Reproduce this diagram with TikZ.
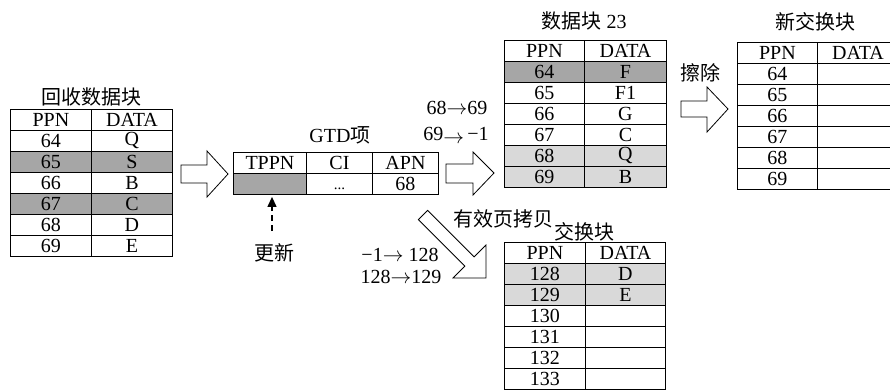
\documentclass[tikz,border=0pt]{standalone}
\usepackage{fontspec}
\setmainfont{Liberation Serif}
\newfontfamily\cjk{Noto Sans CJK SC}
\usetikzlibrary{arrows.meta}
\definecolor{dkg}{HTML}{A6A6A6}
\definecolor{ltg}{HTML}{D9D9D9}
\tikzset{
  cell/.style={draw, line width=0.9pt, inner sep=0pt, minimum height=21pt, anchor=north west},
  blockarrow/.style={draw, line width=0.8pt, fill=white, line join=miter},
  lbl/.style={inner sep=0pt},
}
\newcommand\ra{\ensuremath{\rightarrow}}
\newcommand\mktbl[6]{%
  \foreach \ca/\cb/\cf [count=\ri from 0] in {#6}{%
    \node[cell, fill=\cf, minimum width={#3-#2}] (#1-\ri-a) at (#2,{#5+21*\ri}) {\ca};
    \node[cell, fill=\cf, minimum width={#4-#3}] (#1-\ri-b) at (#3,{#5+21*\ri}) {\cb};
  }%
}
\begin{document}
\begin{tikzpicture}[x=1pt, y=-1pt, font=\fontsize{20}{22}\selectfont]
\useasboundingbox (0,0) rectangle (890,389);

% recycled block
\node[lbl] (t1) at (91,97) {\cjk 回收数据块};
\mktbl{L}{10}{91}{172}{109}{PPN/DATA/white, 64/Q/white, 65/S/dkg, 66/B/white, 67/C/dkg, 68/D/white, 69/E/white}

% GTD entry
\node[lbl] (tg) at (340,135) {GTD\cjk 项};
\node[cell, minimum width=73] (g-0-a) at (233,152) {TPPN};
\node[cell, minimum width=66] (g-0-b) at (306,152) {CI};
\node[cell, minimum width=66] (g-0-c) at (372,152) {APN};
\node[cell, fill=dkg, minimum width=73] (g-1-a) at (233,173) {};
\node[cell, minimum width=66] (g-1-b) at (306,173) {};
\node[lbl, font=\fontsize{15}{16}\selectfont, anchor=base] (dots) at ([yshift=5pt]g-1-b.south) {...};
\node[cell, minimum width=66] (g-1-c) at (372,173) {68};

% data block 23
\node[lbl] (t2) at (584,21) {{\cjk 数据块} 23};
\mktbl{D}{504}{584}{666}{40}{PPN/DATA/white, 64/F/dkg, 65/F1/white, 66/G/white, 67/C/white, 68/Q/ltg, 69/B/ltg}

% new swap block
\node[lbl] (t3) at (815,22) {\cjk 新交换块};
\mktbl{N}{737}{817}{898}{42}{PPN/DATA/white, 64/{}/white, 65/{}/white, 66/{}/white, 67/{}/white, 68/{}/white, 69/{}/white}

% swap block
\node[lbl] (t4) at (584,232) {\cjk 交换块};
\mktbl{S}{504}{585}{665}{242}{PPN/DATA/white, 128/D/ltg, 129/E/ltg, 130/{}/white, 131/{}/white, 132/{}/white, 133/{}/white}

% block arrows
\draw[blockarrow] (181,165) -- (207,165) -- (207,151) -- (228,174) -- (207,197) -- (207,183) -- (181,183) -- cycle;
\draw[blockarrow] (446,164) -- (473,164) -- (473,152) -- (494,173) -- (473,195) -- (473,183) -- (446,183) -- cycle;
\draw[blockarrow] (681,101) -- (707,101) -- (707,87) -- (728,109) -- (707,132) -- (707,117) -- (681,117) -- cycle;
\draw[blockarrow] (427.6,210.4) -- (474.1,256.9) -- (486,245) -- (486,278) -- (453,278) -- (464.9,266.1) -- (418.4,219.6) -- cycle;

% labels
\node[lbl] (m1) at (457,108) {68\ra69};
\node[lbl] (m2) at (456,135) {69\raisebox{-3pt}{\ra}\,−1};
\node[lbl] (m3) at (400,255) {−1\ra\ 128};
\node[lbl] (m4) at (401,277) {128\ra129};
\node[lbl] (er) at (700,73) {\cjk 擦除};
\node[lbl] (cp) at (503,219) {\cjk 有效页拷贝};
\node[lbl] (up) at (274,253) {\cjk 更新};

% update arrow
\coordinate (updtop) at (272,231);
\draw[line width=1.2pt, dash pattern=on 6pt off 4pt, -{Triangle[length=10pt,width=9pt]}]
  (updtop) -- (updtop |- g-1-a.south) [shorten >=2pt];
\end{tikzpicture}
\end{document}
